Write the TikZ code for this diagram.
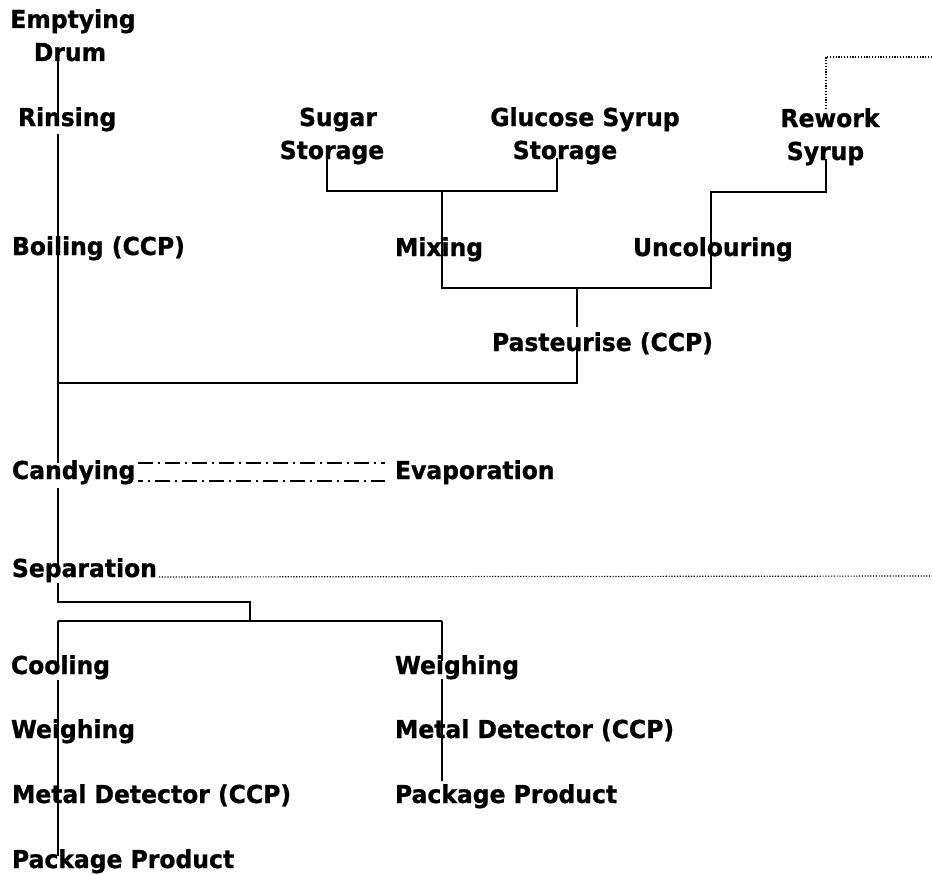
\documentclass[tikz,border=0pt]{standalone}
\usepackage{fontspec}
\newfontfamily\lblfont{DejaVu Sans}[FakeStretch=0.95,FakeBold=1]
\usetikzlibrary{calc}
\begin{document}
\begin{tikzpicture}[x=1pt,y=-1pt,
  lbl/.style={font={\lblfont\bfseries\fontsize{24.7}{33}\selectfont}, inner sep=0pt, outer sep=0pt, anchor=base west, text=black},
  mlbl/.style={lbl, anchor=base},
  conn/.style={draw=black, line width=2pt},
  dotln/.style={draw=black, line width=1.2pt, dash pattern=on 1.2pt off 1.6pt},
  dashdot/.style={draw=black, line width=1.4pt, dash pattern=on 15pt off 5pt on 2pt off 5pt}]
\useasboundingbox (0,0) rectangle (932,875);

% labels
\node[mlbl] (empt) at (73,28) {\begin{tabular}[t]{@{}c@{}}Emptying\\Drum\hspace*{6pt}\end{tabular}};
\node[lbl] (rins) at (18,126) {Rinsing};
\node[lbl] (boil) at (12,255) {Boiling (CCP)};
\node[mlbl] (sugar) at (332,126) {\begin{tabular}[t]{@{}c@{}}\hspace*{12pt}Sugar\\Storage\end{tabular}};
\node[mlbl] (gluc) at (585,126) {\begin{tabular}[t]{@{}c@{}}Glucose Syrup\\Storage\hspace*{40pt}\end{tabular}};
\node[mlbl] (rework) at (830,127) {\begin{tabular}[t]{@{}c@{}}Rework\\Syrup\hspace*{9pt}\end{tabular}};
\node[lbl] (mix) at (395,256) {Mixing};
\node[lbl] (uncol) at (633,256) {Uncolouring};
\node[lbl] (past) at (492,351) {Pasteurise (CCP)};
\node[lbl] (cand) at (12,479) {Candying};
\node[lbl] (evap) at (395,479) {Evaporation};
\node[lbl] (sep) at (12,577) {Separation};
\node[lbl] (cool) at (11,674) {Cooling};
\node[lbl] (weighL) at (11,738) {Weighing};
\node[lbl] (metalL) at (12,803) {Metal Detector (CCP)};
\node[lbl] (packL) at (12,868) {Package Product};
\node[lbl] (weighR) at (395,674) {Weighing};
\node[lbl] (metalR) at (395,738) {Metal Detector (CCP)};
\node[lbl] (packR) at (395,803) {Package Product};

% guide x positions and junctions
\coordinate (sx) at (58,0);
\coordinate (mx) at (442,0);
\coordinate (px) at (577,0);
\coordinate (ux) at (711,0);
\coordinate (sgx) at (327,0);
\coordinate (gx) at (557,0);
\coordinate (rx) at (826,0);
\coordinate (jmix) at (442,191);
\coordinate (jpast) at (577,288);
\coordinate (jrw) at (711,192);
\coordinate (jboil) at (58,383);
\coordinate (jsep) at (250,602);
\coordinate (jsplit) at (250,621);
\coordinate (jL) at (58,621);
\coordinate (jR) at (442,621);
\coordinate (eR1) at (932,57);
\coordinate (eR2) at (932,576);

% left spine
\draw[conn] ($(empt.base -| sx)+(0,32)$) -- ($(rins.base -| sx)+(0,-10)$);
\draw[conn] ($(rins.base -| sx)+(0,8)$) -- ($(boil.base -| sx)+(0,-3)$);
\draw[conn] ($(boil.base -| sx)+(0,-3)$) -- ($(cand.base -| sx)+(0,-16)$);
\draw[conn] ($(cand.base -| sx)+(0,9)$) -- ($(sep.base -| sx)+(0,-9)$);
\draw[conn] ($(sep.base -| sx)+(0,6)$) |- (jsep) -- (jsplit);
\draw[conn] (jL) -- (jR);
\draw[conn] (jL) -- ($(cool.base -| sx)+(0,-10)$);
\draw[conn] ($(cool.base -| sx)+(0,6)$) -- (weighL.base -| sx);
\draw[conn] (weighL.base -| sx) -- (metalL.base -| sx);
\draw[conn] (metalL.base -| sx) -- ($(packL.base -| sx)+(0,-12)$);

% right column
\draw[conn] (jR) -- ($(weighR.base -| mx)+(0,-13)$);
\draw[conn] ($(weighR.base -| mx)+(0,5)$) -- (metalR.base -| mx);
\draw[conn] (metalR.base -| mx) -- ($(packR.base -| mx)+(0,-22)$);

% top section
\draw[conn] ($(sugar.base -| sgx)+(0,32)$) |- (jmix) -| ($(gluc.base -| gx)+(0,32)$);
\draw[conn] (jmix) -- (mix.base -| mx);
\draw[conn] (mix.base -| mx) |- (jpast) -| (uncol.base -| ux);
\draw[conn] ($(rework.base -| rx)+(0,32)$) |- (jrw) -- (uncol.base -| ux);
\draw[conn] (jpast) -- ($(past.base -| px)+(0,-24)$);
\draw[conn] ($(past.base -| px)+(0,-2)$) |- (jboil);

% dotted lines
\draw[dotln] ($(rework.base -| rx)+(0,-18)$) |- (eR1);
\draw[dotln] ($(sep.base east)+(2,0)$) -- (eR2);

% dash-dot double line
\draw[dashdot] ($(cand.base east)+(3,-16)$) -- ($(evap.base west)+(-10,-16)$);
\draw[dashdot, dash phase=10pt] ($(cand.base east)+(3,2)$) -- ($(evap.base west)+(-10,2)$);
\end{tikzpicture}
\end{document}
